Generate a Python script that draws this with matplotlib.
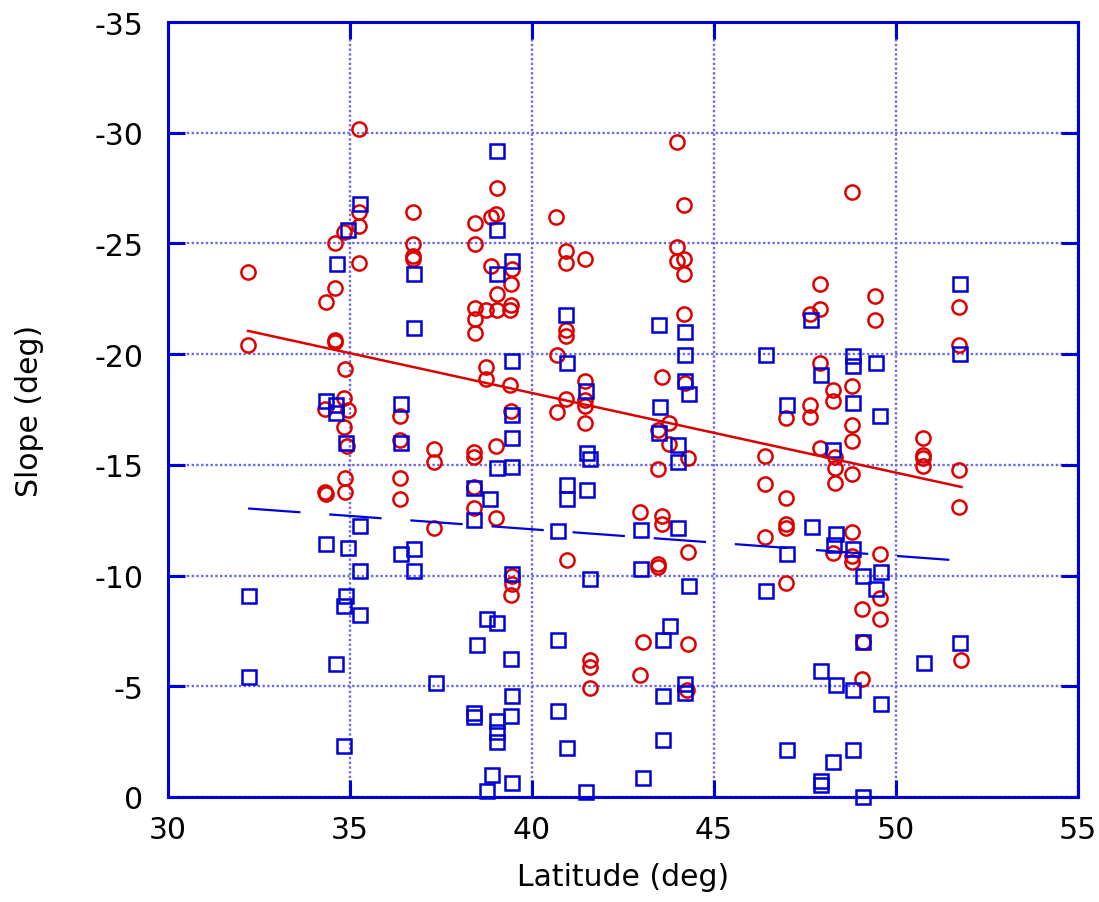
import matplotlib
matplotlib.use("Agg")
import matplotlib.pyplot as plt
import numpy as np

red_x = [32.2, 32.2, 34.33, 34.6, 34.6, 34.83, 35.24, 35.24, 35.24, 35.24, 34.6, 34.6, 34.85, 34.83,
         34.3, 34.95, 34.83, 34.93, 34.85, 34.3, 34.33, 34.85, 36.72, 36.72, 36.72, 36.72, 36.38, 36.38,
         36.38, 36.38, 37.32, 37.32, 37.32, 38.43, 38.43, 38.43, 38.43, 38.43, 38.41, 38.41, 38.41, 38.41,
         38.74, 38.86, 38.86, 39.0, 39.03, 39.03, 39.03, 39.41, 39.4, 39.44, 39.41, 38.74, 38.74, 39.4,
         39.42, 39.0, 39.0, 39.44, 39.44, 39.41, 40.67, 40.92, 40.92, 41.45, 40.92, 40.92, 40.68, 40.92,
         40.68, 41.46, 41.46, 41.46, 41.46, 40.95, 41.58, 41.58, 41.58, 43.97, 44.18, 43.97, 43.97, 44.18,
         44.18, 44.18, 43.56, 44.2, 43.77, 43.47, 43.77, 44.29, 43.47, 42.97, 43.56, 43.56, 44.29, 43.47,
         43.47, 43.04, 44.29, 42.97, 44.26, 46.4, 46.4, 46.4, 46.98, 46.98, 46.98, 46.98, 46.99, 47.64,
         47.64, 47.91, 47.91, 47.64, 47.91, 47.91, 48.26, 48.26, 48.32, 48.32, 48.32, 48.26, 48.8, 48.8,
         48.8, 48.8, 48.8, 48.8, 48.8, 48.8, 49.42, 49.42, 49.56, 49.56, 49.56, 49.07, 49.1, 49.07, 50.73,
         50.73, 50.73, 50.73, 51.72, 51.72, 51.72, 51.72, 51.78]
red_y = [-23.7, -20.4, -22.34, -22.98, -25.0, -25.5, -30.17, -26.4, -25.8, -24.1, -20.63, -20.54, -19.35,
         -18.0, -17.52, -17.47, -16.73, -15.87, -14.42, -13.78, -13.68, -13.78, -26.4, -24.98, -24.45,
         -24.3, -17.22, -16.12, -14.39, -13.45, -15.71, -15.14, -12.17, -25.93, -24.98, -22.1, -21.6,
         -20.95, -15.6, -15.37, -14.0, -13.03, -21.99, -23.97, -26.2, -26.35, -27.5, -22.7, -22.0, -22.2,
         -21.99, -23.85, -23.17, -19.44, -18.88, -18.6, -17.45, -15.85, -12.62, -10.0, -9.64, -9.1, -26.2,
         -24.67, -24.1, -24.3, -21.1, -20.8, -19.94, -17.98, -17.38, -18.77, -17.93, -17.67, -16.88,
         -10.72, -6.17, -5.87, -4.92, -29.57, -26.75, -24.84, -24.19, -24.3, -23.63, -21.82, -18.95,
         -18.69, -16.88, -16.58, -15.93, -15.29, -14.8, -12.85, -12.7, -12.35, -11.07, -10.54, -10.39,
         -6.99, -6.89, -5.53, -4.84, -15.39, -14.12, -11.75, -17.13, -13.5, -12.31, -12.13, -9.68, -17.7,
         -17.14, -23.17, -22.03, -21.82, -19.62, -15.77, -18.38, -17.88, -15.37, -14.84, -14.2, -11.04,
         -27.33, -18.57, -16.8, -16.1, -14.57, -11.97, -10.87, -10.61, -22.62, -21.56, -10.96, -8.99,
         -8.05, -8.47, -7.0, -5.34, -16.22, -15.44, -15.32, -14.94, -22.15, -20.42, -14.76, -13.11, -6.17]

blue_x = [32.23, 32.23, 34.35, 34.62, 34.62, 34.88, 34.95, 34.63, 35.27, 34.35, 34.95, 35.27, 35.27,
          34.88, 34.84, 35.27, 34.62, 34.84, 36.76, 36.76, 36.41, 36.41, 36.41, 36.76, 36.76, 37.37,
          38.41, 38.41, 38.5, 38.41, 38.41, 38.85, 38.75, 38.77, 38.89, 39.03, 39.03, 39.03, 39.46,
          39.46, 39.46, 39.46, 39.03, 39.44, 39.44, 39.03, 39.41, 39.44, 39.41, 39.03, 39.03, 39.03,
          39.46, 40.93, 40.95, 41.48, 41.5, 41.6, 40.95, 40.95, 41.5, 40.7, 41.59, 40.7, 40.7, 40.95,
          41.48, 43.5, 44.2, 44.2, 44.2, 44.32, 43.52, 43.5, 44.02, 44.02, 43.0, 44.0, 43.0, 44.32,
          43.8, 43.6, 44.2, 44.2, 43.6, 43.6, 43.05, 46.44, 46.44, 47.67, 47.01, 47.68, 47.01, 47.93,
          47.93, 47.01, 47.93, 47.93, 48.82, 48.82, 48.82, 48.28, 48.35, 48.3, 48.82, 48.35, 48.82,
          48.82, 48.28, 49.45, 49.57, 49.1, 49.59, 49.45, 49.1, 49.59, 49.1, 50.77, 51.76, 51.76, 51.76]
blue_y = [-9.06, -5.44, -17.88, -17.7, -17.33, -15.97, -25.6, -24.05, -26.8, -11.44, -11.25, -12.22,
          -10.2, -9.08, -8.61, -8.2, -6.02, -2.29, -23.6, -21.2, -17.73, -15.97, -10.96, -11.19, -10.2,
          -5.14, -13.96, -12.5, -6.87, -3.79, -3.6, -13.48, -8.02, -0.29, -1.01, -29.17, -25.6, -23.6,
          -24.22, -19.67, -17.25, -16.2, -14.87, -14.91, -10.09, -7.87, -6.21, -4.58, -3.65, -3.45,
          -2.92, -2.5, -0.63, -21.78, -19.6, -18.32, -15.52, -15.26, -14.08, -13.48, -13.85, -12.0,
          -9.86, -7.07, -3.9, -2.2, -0.21, -21.32, -20.98, -19.94, -18.77, -18.19, -17.6, -16.43,
          -15.9, -15.11, -12.05, -12.16, -10.28, -9.52, -7.7, -7.07, -5.11, -4.71, -4.58, -2.59,
          -0.85, -19.94, -9.29, -21.52, -17.7, -12.2, -10.96, -19.04, -5.67, -2.14, -0.74, -0.54,
          -19.9, -19.45, -17.8, -15.66, -11.86, -11.37, -11.22, -5.04, -4.84, -2.1, -1.57, -19.6,
          -17.22, -9.98, -10.14, -9.41, -7.0, -4.18, -0.01, -6.06, -23.16, -20.0, -6.95]

fit_x = [32.2, 51.8]
red_fit_y = [-21.05, -14.0]
blue_fit_y = [-13.03, -10.67]

xticks = [30, 35, 40, 45, 50, 55]
yticks = [0, -5, -10, -15, -20, -25, -30, -35]

RED = "#dd0000"
BLUE = "#0000d8"
GRID = "#6b6be8"

plt.rcParams['font.family'] = ['DejaVu Sans']

fig = plt.figure(figsize=(10.99, 9.03), dpi=100)
ax = fig.add_axes([0.1529, 0.1163, 0.9809 - 0.1529, 0.9745 - 0.1163])

ax.set_xlim(30, 55)
ax.set_ylim(0, -35)
ax.set_xticks(xticks)
ax.set_yticks(yticks)
ax.set_xticklabels([str(t) for t in xticks])
ax.set_yticklabels([str(t) for t in yticks])

ax.grid(True, color=GRID, linestyle=(0, (1, 1)), linewidth=1.7, zorder=0)
ax.set_axisbelow(True)

ax.plot(red_x, red_y, linestyle='none', marker='o', markersize=10.2, markerfacecolor='none',
        markeredgecolor=RED, markeredgewidth=1.8, zorder=3, clip_on=False)
ax.plot(blue_x, blue_y, linestyle='none', marker='s', markersize=10.6, markerfacecolor='none',
        markeredgecolor=BLUE, markeredgewidth=1.8, zorder=3, clip_on=False)
ax.plot(fit_x, red_fit_y, color=RED, linewidth=1.8, zorder=4)
ax.plot(fit_x, blue_fit_y, color=BLUE, linewidth=1.6, zorder=4,
        linestyle=(0, (23.6, 13)))

for s in ax.spines.values():
    s.set_color(BLUE)
    s.set_linewidth(2.2)

ax.tick_params(direction='in', top=True, right=True, length=12, width=2.2, color=BLUE,
               labelsize=21.5, labelcolor='black')
ax.tick_params(axis='y', pad=18)
ax.tick_params(axis='x', pad=13)

ax.set_xlabel("Latitude (deg)", fontsize=21.5, labelpad=13)
ax.set_ylabel("Slope (deg)", fontsize=21.5, labelpad=36)

fig.savefig("out.png", dpi=100)
